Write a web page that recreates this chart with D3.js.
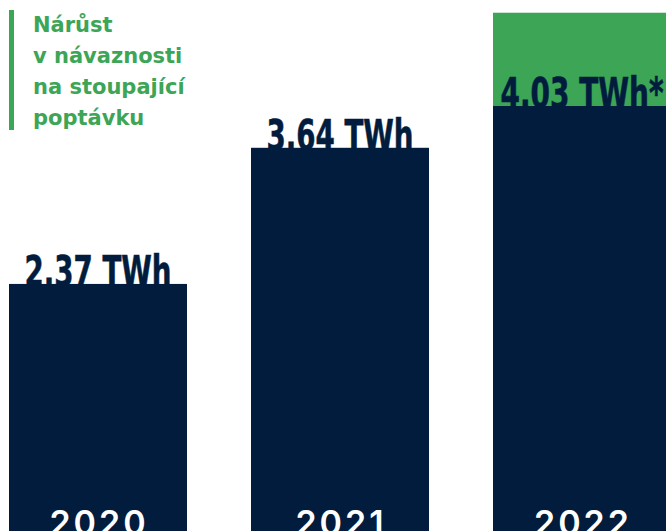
<!DOCTYPE html>
<html>
<head>
<meta charset="utf-8">
<script src="https://cdn.jsdelivr.net/npm/d3@7"></script>
<style>
  body { margin: 0; background: #fff; overflow: hidden; }
  svg { display: block; }
</style>
</head>
<body>
<div id="chart"></div>
<script>
const years = ['2020', '2021', '2022']
const values = [2.37, 3.64, 4.03]
const valueLabels = ['2.37 TWh', '3.64 TWh', '4.03 TWh*']
const growthTop = [null, null, 4.9]   // green block above 2022 bar
const noteLines = ['Nárůst', 'v návaznosti', 'na stoupající', 'poptávku']

const NAVY = '#011c3d'
const GREEN = '#3ca556'
const width = 666, height = 531

const svg = d3.select('#chart').append('svg').attr('width', width).attr('height', height)

const x = d3.scaleBand().domain(years).range([9, 671]).paddingInner(64 / 242).paddingOuter(0)
const y = d3.scaleLinear().domain([0, 5]).range([538, 2])

const rows = years.map((yr, i) => ({ year: yr, value: values[i], label: valueLabels[i], top: growthTop[i] }))

// green growth block
svg.append('g').selectAll('rect')
  .data(rows.filter(d => d.top != null))
  .join('rect')
  .attr('x', d => x(d.year))
  .attr('y', d => y(d.top))
  .attr('width', x.bandwidth())
  .attr('height', d => y(d.value) - y(d.top))
  .attr('fill', GREEN)

// bars
svg.append('g').selectAll('rect')
  .data(rows)
  .join('rect')
  .attr('x', d => x(d.year))
  .attr('y', d => y(d.value))
  .attr('width', x.bandwidth())
  .attr('height', d => y(0) - y(d.value))
  .attr('fill', NAVY)

// value labels
svg.append('g').selectAll('text')
  .data(rows)
  .join('text')
  .attr('x', d => x(d.year) + x.bandwidth() / 2)
  .attr('y', d => y(d.value) + 2)
  .attr('text-anchor', 'middle')
  .attr('textLength', d => d.label.endsWith('*') ? 163 : 147)
  .attr('lengthAdjust', 'spacingAndGlyphs')
  .style('font-family', '"Liberation Sans Narrow", "DejaVu Sans Condensed", sans-serif')
  .style('font-weight', 700)
  .style('font-size', '43px')
  .attr('fill', NAVY)
  .attr('stroke', NAVY).attr('stroke-width', 0.6)
  .text(d => d.label)

// year labels
svg.append('g').selectAll('text')
  .data(rows)
  .join('text')
  .attr('x', d => x(d.year) + x.bandwidth() / 2 + 1)
  .attr('y', 535)
  .attr('text-anchor', 'middle')
  .style('font-family', 'Inter, "Noto Sans", sans-serif')
  .style('font-weight', 600)
  .style('font-size', '34px')
  .style('letter-spacing', '3px')
  .attr('fill', '#fff')
  .text(d => d.year)

// note
svg.append('rect').attr('x', 9).attr('y', 10).attr('width', 5).attr('height', 120).attr('fill', GREEN)
svg.append('g').selectAll('text')
  .data(noteLines)
  .join('text')
  .attr('x', 33)
  .attr('y', (d, i) => 32 + i * 31)
  .style('font-family', '"DejaVu Sans", sans-serif')
  .style('font-weight', 700)
  .style('font-size', '21px')
  .attr('fill', GREEN)
  .text(d => d)
</script>
</body>
</html>
